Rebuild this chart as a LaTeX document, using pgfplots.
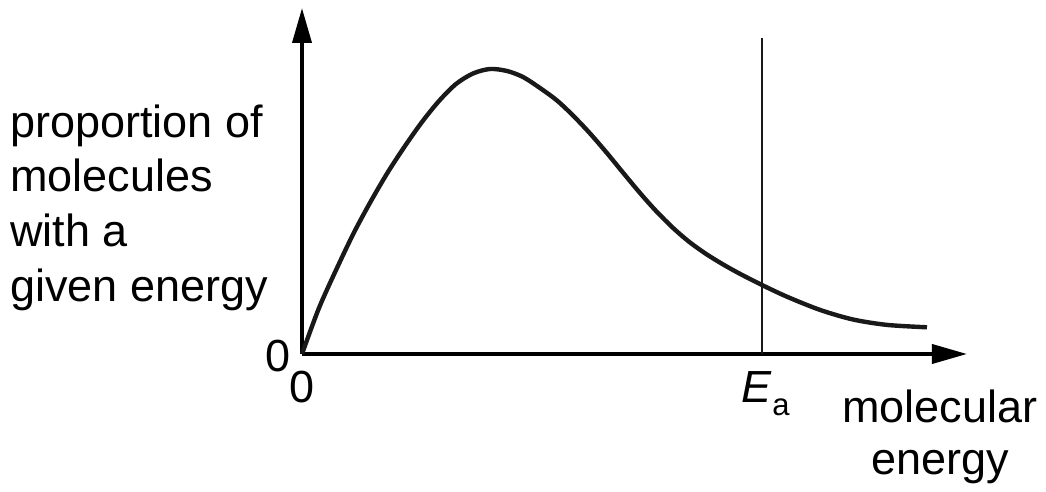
\documentclass[border=0pt]{standalone}
\usepackage{fontspec}
\setmainfont{Liberation Sans}
\usepackage{pgfplots}
\pgfplotsset{compat=1.18}
\usetikzlibrary{arrows.meta}

\tikzset{lab/.style={font=\fontsize{22.5}{27.5}\selectfont, inner sep=0pt}}

\begin{document}
\begin{tikzpicture}
  \begin{axis}[
    x=0.5pt, y=0.5pt,
    xmin=0, xmax=665,
    ymin=0, ymax=346,
    axis lines=left,
    axis line style={line width=1.9pt, -{Triangle[length=17.5pt, width=9.5pt]}},
    xtick=\empty, ytick=\empty,
    clip=false,
  ]
  % keep the page the same size as the reference
  \path (axis cs:-302,-138) rectangle (axis cs:744,354);

  % distribution curve
  \addplot[smooth, line width=2.2pt, black!90] coordinates {
    (0,0) (17,46) (35,86) (52,121.5) (69,153) (86,182) (103,208)
    (120,232) (137,253) (154,270) (171,280.5) (188,285) (205,283)
    (221,277) (238,266) (255,253.5) (271,238.5) (288,220.6)
    (305,200.9) (321,181.4) (338,161) (354,143.1) (371,126.1)
    (387,112.3) (404,100.1) (420,90.2) (437,80.7) (460,69)
    (485,57.3) (518,44.1) (551,34.5) (585,29.1) (625,26.7)
  };

  % activation energy line
  \addplot[line width=1.1pt, black!90] coordinates {(460,0) (460,316)};

  % labels
  \node[lab, anchor=base west] at (axis cs:-292,216) {proportion of};
  \node[lab, anchor=base west] at (axis cs:-292,162) {molecules};
  \node[lab, anchor=base west] at (axis cs:-292,107) {with a};
  \node[lab, anchor=base west] at (axis cs:-292,52) {given energy};
  \node[lab, anchor=east] at (axis cs:-11,-2) {0};
  \node[lab, anchor=north] at (axis cs:0,-17) {0};
  \node[lab, anchor=base west] at (axis cs:439,-49)
    {\itshape E\upshape\kern0.5pt\raisebox{-6.5pt}{\fontsize{15.5}{18}\selectfont a}};
  \node[lab, anchor=base] at (axis cs:638,-69) {molecular};
  \node[lab, anchor=base] at (axis cs:638,-121) {energy};
  \end{axis}
\end{tikzpicture}
\end{document}
